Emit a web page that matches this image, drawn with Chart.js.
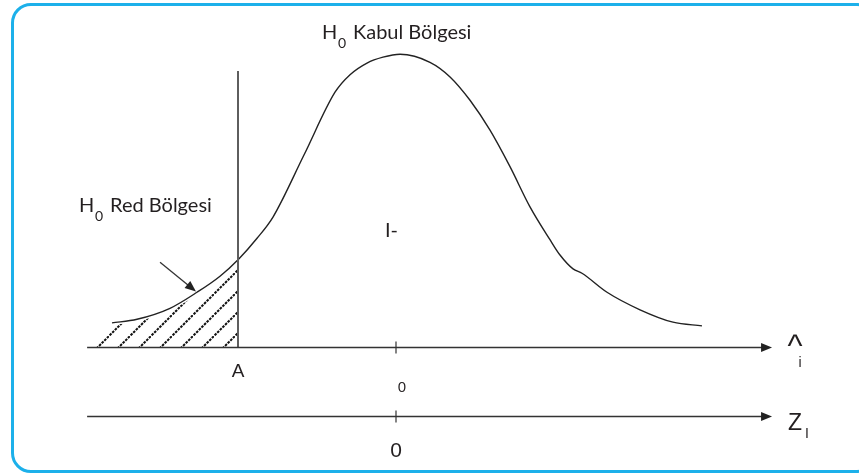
<!DOCTYPE html>
<html>
<head>
<meta charset="utf-8">
<script src="https://cdn.jsdelivr.net/npm/chart.js@4.4.0/dist/chart.umd.min.js"></script>
<style>
  body { margin: 0; background: #fff; overflow: hidden; }
  #frame {
    position: absolute; left: 11px; top: 3px; width: 866px; height: 470px;
    box-sizing: border-box; border: 3px solid #1cb0ea; border-radius: 20px;
  }
  #wrap { position: absolute; left: 0; top: 0; width: 859px; height: 474px; }
</style>
</head>
<body>
<div id="frame"></div>
<div id="wrap"><canvas id="diagram" width="859" height="474"></canvas></div>
<script>
// density curve, x in z units (0 = centre), y = height
var curveX = [-3.595, -3.278, -2.861, -2.519, -2.228, -1.987, -1.759, -1.557, -1.165, -0.772, -0.582, -0.367, -0.165, 0.051, 0.430, 0.684, 0.937, 1.190, 1.443, 1.696, 1.949, 2.076, 2.241, 2.354, 2.671, 3.089, 3.506, 3.873];
var curveY = [0.033, 0.038, 0.053, 0.075, 0.097, 0.121, 0.149, 0.178, 0.263, 0.349, 0.373, 0.389, 0.397, 0.401, 0.390, 0.370, 0.338, 0.297, 0.247, 0.192, 0.147, 0.126, 0.107, 0.101, 0.075, 0.051, 0.034, 0.029];

// rejection region (hatched), left of A
var hatchX = [-3.81, -3.595, -3.278, -2.861, -2.519, -2.228, -2.0];
var hatchY = [0, 0.030, 0.034, 0.049, 0.071, 0.093, 0.115];

var critA = -2;          // position of A
var axisStart = -3.91;   // left end of both axes
var axisEnd = 4.76;      // arrow tip
var zAxisLevel = -0.094; // second (Z) axis
var lineTop = 0.378;     // top of the vertical line at A
var pointer = [[-2.987, 0.116], [-2.532, 0.076]];

function pts(xs, ys) {
    return xs.map(function(x, i) { return {x: x, y: ys[i]}; });
}

// diagonal dashed hatch
var tile = document.createElement('canvas');
tile.width = 21; tile.height = 21;
var tc = tile.getContext('2d');
tc.strokeStyle = '#111';
tc.lineWidth = 2;
tc.setLineDash([2.6, 1.1]);
tc.beginPath();
tc.moveTo(-2, 23); tc.lineTo(23, -2);
tc.stroke();

var ctx = document.getElementById('diagram').getContext('2d');
var hatch = ctx.createPattern(tile, 'repeat');
if (hatch.setTransform) hatch.setTransform(new DOMMatrix().translate(4, 0));

var PX = 79, PY = 730;

function arrowHead(c, x, y, ang, len, half) {
    c.save();
    c.translate(x, y);
    c.rotate(ang);
    c.beginPath();
    c.moveTo(0, 0);
    c.lineTo(-len, -half);
    c.lineTo(-len, half);
    c.closePath();
    c.fill();
    c.restore();
}

function txt(c, s, x, y, font, align) {
    c.font = font;
    c.textAlign = align || 'left';
    c.fillText(s, x, y);
}

var diagramPlugin = {
    id: 'diagram',
    afterDatasetsDraw: function(chart) {
        var c = chart.ctx;
        var xs = chart.scales.x, ys = chart.scales.y;
        var X = function(v) { return xs.getPixelForValue(v); };
        var Y = function(v) { return ys.getPixelForValue(v); };
        c.save();

        // vertical line at A
        c.strokeStyle = '#5e5e5e';
        c.lineWidth = 2;
        c.beginPath();
        c.moveTo(X(critA), Y(0));
        c.lineTo(X(critA), Y(lineTop));
        c.stroke();

        // two horizontal axes with arrows and a tick at 0
        c.strokeStyle = '#333';
        c.fillStyle = '#222';
        c.lineWidth = 1.6;
        [0, zAxisLevel].forEach(function(lv) {
            var y = Math.round(Y(lv)) + 0.5;
            c.beginPath();
            c.moveTo(X(axisStart), y);
            c.lineTo(X(axisEnd) - 8, y);
            c.stroke();
            arrowHead(c, X(axisEnd), y, 0, 11, 4.5);
            c.lineWidth = 1.2;
            c.beginPath();
            c.moveTo(X(0), y - 6);
            c.lineTo(X(0), y + 6);
            c.stroke();
            c.lineWidth = 1.6;
        });

        // pointer arrow to the tail
        var p0x = X(pointer[0][0]), p0y = Y(pointer[0][1]);
        var p1x = X(pointer[1][0]), p1y = Y(pointer[1][1]);
        var ang = Math.atan2(p1y - p0y, p1x - p0x);
        c.lineWidth = 1.3;
        c.beginPath();
        c.moveTo(p0x, p0y);
        c.lineTo(p1x - 8 * Math.cos(ang), p1y - 8 * Math.sin(ang));
        c.stroke();
        arrowHead(c, p1x, p1y, ang, 11, 4.5);

        // labels
        c.fillStyle = '#231f20';
        c.textBaseline = 'alphabetic';
        var hum = 'Lato, "Open Sans", sans-serif';
        txt(c, 'H', 322, 39, '20px ' + hum);
        txt(c, '0', 338, 48, '14px ' + hum);
        txt(c, 'Kabul Bölgesi', 353, 39, '20px ' + hum);

        txt(c, 'H', 79, 212, '20px ' + hum);
        txt(c, '0', 95, 221, '14px ' + hum);
        txt(c, 'Red Bölgesi', 110, 212, '20px ' + hum);

        txt(c, 'I-', 385, 237, '20px ' + hum);

        var ar = '"Liberation Sans", Arial, sans-serif';
        txt(c, 'A', X(critA), 377, '19px ' + ar, 'center');
        txt(c, '0', 402, 392, '15px ' + ar, 'center');
        txt(c, '0', X(0), 457, '21px ' + ar, 'center');
        txt(c, '^', 795, 356, '32px ' + ar, 'center');
        txt(c, 'i', 800, 367, '14px ' + ar, 'center');
        txt(c, 'Z', 788, 430, '23px ' + ar);
        txt(c, 'I', 805, 438, '14px ' + ar);

        c.restore();
    }
};

var myChart = new Chart(ctx, {
    type: 'line',
    data: {
        datasets: [
            {
                data: pts(hatchX, hatchY),
                fill: 'origin',
                backgroundColor: hatch,
                borderWidth: 0,
                tension: 0,
                pointRadius: 0,
            },
            {
                data: pts(curveX, curveY),
                fill: false,
                borderColor: '#222',
                borderWidth: 1.4,
                cubicInterpolationMode: 'monotone',
                pointRadius: 0,
            },
        ] // dataset end
    },
    options: {
        responsive: false,
        animation: false,
        layout: { padding: 0 },
        scales: {
            x: { type: 'linear', display: false, min: -396 / PX, max: 463 / PX },
            y: { display: false, min: -127 / PY, max: 347 / PY }
        },
        plugins: {
            legend: { display: false },
            tooltip: { enabled: false }
        }
    },
    plugins: [diagramPlugin]
});
</script>
</body>
</html>
